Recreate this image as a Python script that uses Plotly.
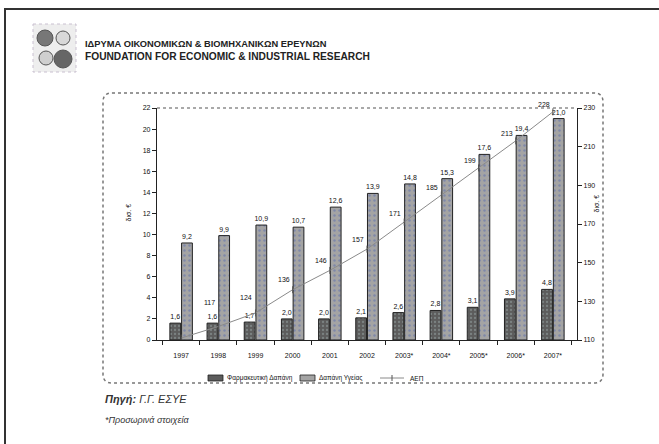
import plotly.graph_objects as go

# Data (δισ. €)
years = ["1997", "1998", "1999", "2000", "2001", "2002",
         "2003*", "2004*", "2005*", "2006*", "2007*"]
pharma = [1.6, 1.6, 1.7, 2.0, 2.0, 2.1, 2.6, 2.8, 3.1, 3.9, 4.8]
health = [9.2, 9.9, 10.9, 10.7, 12.6, 13.9, 14.8, 15.3, 17.6, 19.4, 21.0]
gdp = [111, 117, 124, 136, 146, 157, 171, 185, 199, 213, 228]

FONT = "Liberation Sans, Arial, sans-serif"
W, H = 659, 444
L, R, T, B = 157, 577, 108, 340

DARK, LIGHT, LINE = "#5c5c5c", "#a4a4a4", "#8a8a8a"


def px(x):
    return (x - L) / (R - L)


def py(y):
    return (B - y) / (B - T)


fig = go.Figure()

fig.add_trace(go.Bar(
    x=years, y=pharma, name="Φαρμακευτική Δαπάνη",
    marker=dict(color=DARK, line=dict(color="#222", width=1),
                pattern=dict(shape=".", fgcolor="#9aa8a8", size=4, solidity=0.25)),
    texttemplate="%{y:.1f}", textposition="outside", constraintext="none",
    textfont=dict(size=7, color="#111", family=FONT), cliponaxis=False,
))
fig.add_trace(go.Bar(
    x=years, y=health, name="Δαπάνη Υγείας",
    marker=dict(color=LIGHT, line=dict(color="#222", width=1),
                pattern=dict(shape=".", fgcolor="#5a6cae", size=5, solidity=0.2)),
    texttemplate="%{y:.1f}", textposition="outside", constraintext="none",
    textfont=dict(size=7, color="#111", family=FONT), cliponaxis=False,
))
fig.add_trace(go.Scatter(
    x=years, y=gdp, name="ΑΕΠ", yaxis="y2",
    mode="lines+markers",
    line=dict(color=LINE, width=1),
    marker=dict(symbol="line-ns", size=5, line=dict(color="#555", width=1)),
))

shapes = []
# page frame (only top and left edges fall inside the page)
shapes.append(dict(type="rect", xref="paper", yref="paper",
                   x0=px(5), x1=px(720), y0=py(9), y1=py(520),
                   line=dict(color="#333", width=2), layer="below"))

# rounded chart box
x0, x1, y0, y1, r = 103, 603, 93, 383, 9
rx, ry = r / (R - L), r / (B - T)
X0, X1, Y0, Y1 = px(x0), px(x1), py(y0), py(y1)
path = (f"M {X0 + rx} {Y0} L {X1 - rx} {Y0} Q {X1} {Y0} {X1} {Y0 - ry} "
        f"L {X1} {Y1 + ry} Q {X1} {Y1} {X1 - rx} {Y1} "
        f"L {X0 + rx} {Y1} Q {X0} {Y1} {X0} {Y1 + ry} "
        f"L {X0} {Y0 - ry} Q {X0} {Y0} {X0 + rx} {Y0} Z")
shapes.append(dict(type="path", xref="paper", yref="paper", path=path,
                   line=dict(color="#777", width=1.5, dash="dot"), layer="below"))

# top edge of the plot area
shapes.append(dict(type="line", xref="paper", yref="paper",
                   x0=0, x1=1, y0=1, y1=1,
                   line=dict(color="#555", width=1.2, dash="dot")))

# logo
shapes.append(dict(type="rect", xref="paper", yref="paper",
                   x0=px(33), x1=px(76), y0=py(24), y1=py(72),
                   line=dict(color="#c9c0d0", width=1, dash="dot"),
                   fillcolor="#eeeeee", layer="below"))
for (cx, cy, rr, col) in [(45, 38, 8, "#777"), (63, 38, 7, "#d8d8d8"),
                          (46, 58, 7, "#cfcfcf"), (63, 59, 9, "#666")]:
    shapes.append(dict(type="circle", xref="paper", yref="paper",
                       x0=px(cx - rr), x1=px(cx + rr), y0=py(cy - rr), y1=py(cy + rr),
                       line=dict(color="#555", width=1), fillcolor=col))

# legend, drawn by hand to keep it compact
LEG_Y = 378
shapes.append(dict(type="rect", xref="paper", yref="paper",
                   x0=px(208), x1=px(223), y0=py(LEG_Y - 3), y1=py(LEG_Y + 3),
                   line=dict(color="#222", width=0.8), fillcolor=DARK))
shapes.append(dict(type="rect", xref="paper", yref="paper",
                   x0=px(300), x1=px(315), y0=py(LEG_Y - 3), y1=py(LEG_Y + 3),
                   line=dict(color="#222", width=0.8), fillcolor=LIGHT))
shapes.append(dict(type="line", xref="paper", yref="paper",
                   x0=px(380), x1=px(404), y0=py(LEG_Y), y1=py(LEG_Y),
                   line=dict(color=LINE, width=1)))
shapes.append(dict(type="line", xref="paper", yref="paper",
                   x0=px(392), x1=px(392), y0=py(LEG_Y - 3), y1=py(LEG_Y + 3),
                   line=dict(color="#555", width=1)))

annotations = [
    dict(text="<b>ΙΔΡΥΜΑ ΟΙΚΟΝΟΜΙΚΩΝ & ΒΙΟΜΗΧΑΝΙΚΩΝ ΕΡΕΥΝΩΝ</b>",
         x=px(83), y=py(44), xref="paper", yref="paper", xanchor="left",
         yanchor="middle", showarrow=False, font=dict(size=9.3, family=FONT, color="#222")),
    dict(text="<b>FOUNDATION FOR ECONOMIC & INDUSTRIAL RESEARCH</b>",
         x=px(83), y=py(57), xref="paper", yref="paper", xanchor="left",
         yanchor="middle", showarrow=False, font=dict(size=10.2, family=FONT, color="#222")),
    dict(text="δισ. €", x=px(122), y=py(213), xref="paper", yref="paper",
         textangle=-90, showarrow=False, font=dict(size=7, family=FONT, color="#111")),
    dict(text="δισ. €", x=px(601), y=py(204), xref="paper", yref="paper",
         textangle=-90, showarrow=False, font=dict(size=7, family=FONT, color="#111")),
    dict(text="<b><i>Πηγή:</i></b><i> Γ.Γ. ΕΣΥΕ</i>", x=px(103), y=py(399),
         xref="paper", yref="paper", xanchor="left", yanchor="middle",
         showarrow=False, font=dict(size=11, family=FONT, color="#333")),
    dict(text="<i>*Προσωρινά στοιχεία</i>", x=px(103), y=py(420),
         xref="paper", yref="paper", xanchor="left", yanchor="middle",
         showarrow=False, font=dict(size=9, family=FONT, color="#333")),
]
for lx, label in [(225, "Φαρμακευτική Δαπάνη"), (317, "Δαπάνη Υγείας"), (408, "ΑΕΠ")]:
    annotations.append(dict(text=label, x=px(lx), y=py(LEG_Y), xref="paper", yref="paper",
                            xanchor="left", yanchor="middle", showarrow=False,
                            font=dict(size=6.5, family=FONT, color="#111")))

# GDP value labels, placed above-left of each point; the first point has none,
# the early ones are lifted clear of the bar labels
lift = [0, 22, 14, 9, 8, 8, 7, 6, 6, 6, 6]
for i, v in enumerate(gdp):
    if i == 0:
        continue
    annotations.append(dict(text=str(v), x=i, y=v, xref="x", yref="y2",
                            xanchor="right", yanchor="bottom", xshift=-1, yshift=lift[i] - 4,
                            showarrow=False, font=dict(size=7, family=FONT, color="#111")))

fig.update_layout(
    width=W, height=H,
    margin=dict(l=L, r=W - R, t=T, b=H - B, pad=0),
    paper_bgcolor="white", plot_bgcolor="white",
    separators=",.",
    barmode="group", bargap=0.37, bargroupgap=0.08,
    font=dict(family=FONT, size=7, color="#111"),
    showlegend=False,
    xaxis=dict(type="category", categoryorder="array", categoryarray=years,
               showline=True, linecolor="#222", linewidth=1.2,
               ticks="outside", ticklen=4, tickcolor="#222", tickson="boundaries",
               ticklabelstandoff=8, tickfont=dict(size=7),
               showgrid=False, fixedrange=True),
    yaxis=dict(range=[0, 22], dtick=2, showline=True, linecolor="#222",
               linewidth=1.2, ticks="outside", ticklen=4, tickcolor="#222",
               showgrid=False, zeroline=False, tickfont=dict(size=7),
               tickformat="d"),
    yaxis2=dict(range=[110, 230], tick0=110, dtick=20, overlaying="y", side="right",
                showline=True, linecolor="#222", linewidth=1.2,
                ticks="outside", ticklen=4, tickcolor="#222",
                showgrid=False, zeroline=False, tickfont=dict(size=7)),
    shapes=shapes,
    annotations=annotations,
)

fig.write_html("out.html")
